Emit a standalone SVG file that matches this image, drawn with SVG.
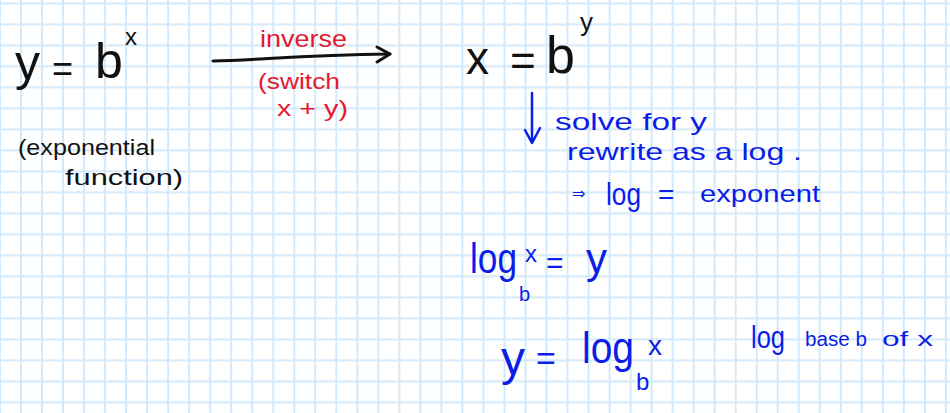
<svg xmlns="http://www.w3.org/2000/svg" width="950" height="413" viewBox="0 0 950 413">
  <defs>
    <pattern id="grid" x="-10.51" y="-7.2" width="21.02" height="21" patternUnits="userSpaceOnUse">
      <path d="M10.51 0 V21 M0 10.5 H21.02" stroke="#d3e9fb" stroke-width="2" fill="none"/>
    </pattern>
    <style>
      text { font-family: "Liberation Sans", Arial, sans-serif; }
      .k { fill: #111111; }
      .r { fill: #e5192e; }
      .b { fill: #0a1ee8; }
      .ak { stroke: #111111; stroke-width: 3; fill: none; stroke-linecap: round; stroke-linejoin: round; }
      .ab { stroke: #0a1ee8; stroke-width: 2.5; fill: none; stroke-linecap: round; stroke-linejoin: round; }
    </style>
  </defs>
  <rect width="950" height="413" fill="#ffffff"/>
  <rect width="950" height="413" fill="url(#grid)"/>

  <g id="exponential">
    <text class="k" x="15" y="80" font-size="50">y</text>
    <text class="k" x="52" y="81" font-size="36">=</text>
    <text class="k" x="95" y="78" font-size="50">b</text>
    <text class="k" x="125" y="45" font-size="24">x</text>
    <text class="k" x="18" y="155" font-size="22" textLength="137" lengthAdjust="spacingAndGlyphs">(exponential</text>
    <text class="k" x="65" y="185" font-size="22" textLength="118" lengthAdjust="spacingAndGlyphs">function)</text>
  </g>

  <g id="inverse-label">
    <text class="r" x="260" y="47" font-size="24" textLength="87" lengthAdjust="spacingAndGlyphs">inverse</text>
    <text class="r" x="258" y="89" font-size="22" textLength="82" lengthAdjust="spacingAndGlyphs">(switch</text>
    <text class="r" x="277" y="116" font-size="22" textLength="71" lengthAdjust="spacingAndGlyphs">x + y)</text>
  </g>

  <g id="inverse-equation">
    <text class="k" x="466" y="74" font-size="46">x</text>
    <text class="k" x="510" y="76" font-size="44">=</text>
    <text class="k" x="546" y="73" font-size="52">b</text>
    <text class="k" x="580" y="31" font-size="26">y</text>
  </g>

  <g id="solve-note">
    <text class="b" x="555" y="130" font-size="24" textLength="152" lengthAdjust="spacingAndGlyphs">solve for y</text>
    <text class="b" x="567" y="160" font-size="24" textLength="235" lengthAdjust="spacingAndGlyphs">rewrite as a log .</text>
    <text class="b" x="572" y="199" font-size="16" style="font-family:'DejaVu Sans',sans-serif">⇒</text>
    <text class="b" x="606" y="205" font-size="32" textLength="35" lengthAdjust="spacingAndGlyphs">log</text>
    <text class="b" x="658" y="204" font-size="28">=</text>
    <text class="b" x="700" y="202" font-size="24" textLength="120" lengthAdjust="spacingAndGlyphs">exponent</text>
  </g>

  <g id="log-equation">
    <text class="b" x="470" y="273" font-size="42" textLength="47" lengthAdjust="spacingAndGlyphs">log</text>
    <text class="b" x="519" y="301" font-size="20">b</text>
    <text class="b" x="525" y="262" font-size="24">x</text>
    <text class="b" x="546" y="273" font-size="30">=</text>
    <text class="b" x="586" y="273" font-size="42">y</text>
  </g>

  <g id="log-form">
    <text class="b" x="501" y="375" font-size="48">y</text>
    <text class="b" x="536" y="370" font-size="34">=</text>
    <text class="b" x="582" y="363" font-size="44" textLength="52" lengthAdjust="spacingAndGlyphs">log</text>
    <text class="b" x="636" y="390" font-size="24">b</text>
    <text class="b" x="648" y="355" font-size="28">x</text>
  </g>

  <g id="log-note">
    <text class="b" x="751" y="348" font-size="32" textLength="34" lengthAdjust="spacingAndGlyphs">log</text>
    <text class="b" x="805" y="346" font-size="20" textLength="62" lengthAdjust="spacingAndGlyphs">base b</text>
    <text class="b" x="882" y="346" font-size="20" textLength="51" lengthAdjust="spacingAndGlyphs">of x</text>
  </g>

  <g id="connectors">
    <path class="ak" d="M213,61 C260,60 300,55 390,54"/>
    <polyline class="ak" points="377,47 390,54 377,62"/>
    <path class="ab" d="M532,93 L532,142"/>
    <polyline class="ab" points="525,130 532,143 540,128"/>
  </g>
</svg>
